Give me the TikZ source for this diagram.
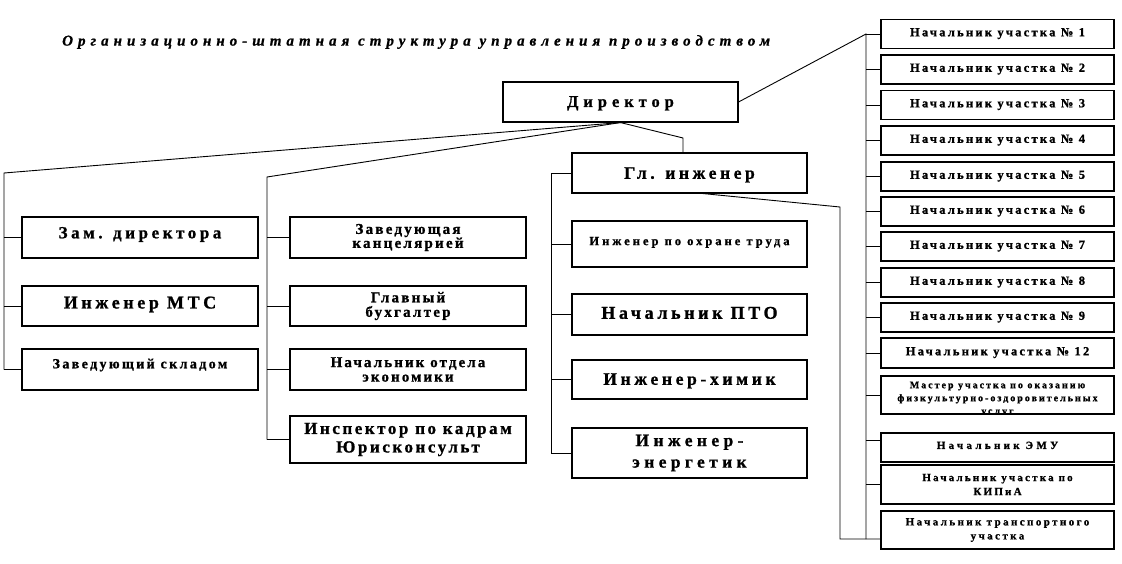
\documentclass[tikz,border=0pt]{standalone}
\usepackage{fontspec}
\setmainfont{Liberation Serif}
\begin{document}
\begin{tikzpicture}[x=1pt,y=-1pt,
  box/.style={draw, line width=1.1pt, inner sep=0pt, align=center},
  conn/.style={line width=0.9pt},
  f/.style n args={3}{font=\fontsize{#1}{#2}\selectfont\bfseries\addfontfeatures{LetterSpace=#3,FakeBold=1}},
  vc/.style 2 args={text height=#1, text depth=#2},
  rbox/.style={box, minimum width=233, minimum height=29, f={12.5}{15}{18}, vc={8.25pt}{3.6pt}}]
\fill[white] (0,0) rectangle (1122,563);
\useasboundingbox (0,0) rectangle (1122,563);

% title
\node[anchor=west, inner sep=0pt, font=\fontsize{15}{18}\selectfont\bfseries\itshape\addfontfeatures{LetterSpace=33.5,FakeBold=1}] (title) at (62,42) {Организационно-штатная структура управления производством};

% top
\node[box, minimum width=235, minimum height=40, f={16.5}{20}{30}, vc={10.9pt}{1pt}] (dir) at (620.5,102) {Директор};
\node[box, minimum width=235, minimum height=40, f={17.5}{20}{20.5}, vc={11.5pt}{0pt}] (gl) at (689.5,173) {Гл. инженер};

% left column
\node[box, minimum width=236, minimum height=41, f={17}{20}{21}, vc={11.2pt}{9.6pt}] (zam) at (140,237.5) {Зам. директора};
\node[box, minimum width=236, minimum height=40, f={18}{20}{20}, vc={11.9pt}{7pt}] (mts) at (140,306) {Инженер МТС};
\node[box, minimum width=236, minimum height=41, f={14}{16}{17}, vc={9.2pt}{11.6pt}] (sklad) at (140,369.5) {Заведующий складом};

% second column
\node[box, minimum width=236, minimum height=41, f={15}{14}{15}] (kanc) at (408,237.5) {Заведующая\\канцелярией};
\node[box, minimum width=236, minimum height=40, f={15}{14.5}{15}] (buh) at (408,306) {Главный\\бухгалтер};
\node[box, minimum width=236, minimum height=41, f={15}{14.5}{14}] (econ) at (408,369.5) {Начальник отдела\\экономики};
\node[box, minimum width=236, minimum height=47, f={17}{18.5}{15}] (insp) at (408,439.5) {Инспектор по кадрам\\Юрисконсульт};

% third column
\node[box, minimum width=235, minimum height=46, f={12.5}{15}{24}, vc={8.25pt}{6pt}] (ohr) at (689.5,244) {Инженер по охране труда};
\node[box, minimum width=235, minimum height=41, f={18}{20}{20}, vc={11.9pt}{3.4pt}] (pto) at (689.5,314.5) {Начальник ПТО};
\node[box, minimum width=235, minimum height=39, f={17.5}{20}{21}, vc={11.5pt}{1pt}] (him) at (689.5,379.5) {Инженер-химик};
\node[box, minimum width=235, minimum height=50, f={17.5}{21.5}{25}] (energ) at (689.5,453) {Инженер-\\энергетик};

% right column
\node[rbox] (u1) at (997.5,34) {Начальник участка № 1};
\node[rbox] (u2) at (997.5,69.5) {Начальник участка № 2};
\node[rbox] (u3) at (997.5,105) {Начальник участка № 3};
\node[rbox] (u4) at (997.5,140.5) {Начальник участка № 4};
\node[rbox] (u5) at (997.5,176.5) {Начальник участка № 5};
\node[rbox] (u6) at (997.5,211.5) {Начальник участка № 6};
\node[rbox] (u7) at (997.5,246.5) {Начальник участка № 7};
\node[rbox] (u8) at (997.5,282.5) {Начальник участка № 8};
\node[rbox] (u9) at (997.5,317.5) {Начальник участка № 9};
\node[rbox, minimum height=30] (u12) at (997.5,353) {Начальник участка № 12};
\node[box, minimum width=233, minimum height=38] (master) at (997.5,395) {};
\begin{scope}
\clip (master.south west) rectangle (master.north east);
\node[align=center, inner sep=0pt, f={10}{13}{20}] (mastert) at ([yshift=-4pt]master.center) {Мастер участка по оказанию\\физкультурно-оздоровительных\\услуг};
\end{scope}
\node[box, minimum width=233, minimum height=29, f={11}{13}{30}, vc={7.3pt}{4.4pt}] (emu) at (997.5,447.5) {Начальник ЭМУ};
\node[box, minimum width=233, minimum height=39, f={11}{14}{20}] (kip) at (997.5,484.5) {Начальник участка по\\КИПиА};
\node[box, minimum width=233, minimum height=38, f={11}{14}{22}] (trans) at (997.5,530) {Начальник транспортного\\участка};

% connector coordinates
\coordinate (cL) at (4,173);
\coordinate (cM) at (267,177);
\coordinate (cG) at (683,138);
\coordinate (cGx) at (551,173);
\coordinate (cR) at (866,34);
\coordinate (cB) at (840,207);
\coordinate (cRb) at ([yshift=-9pt]trans.west);

% director to left column
\draw[conn] (dir.south) -- (cL) -- (cL |- sklad.west);
\foreach \n in {zam,mts,sklad} \draw[conn] (\n.west) -- (\n.west -| cL);
% director to second column
\draw[conn] (dir.south) -- (cM) -- (cM |- insp.west);
\foreach \n in {kanc,buh,econ,insp} \draw[conn] (\n.west) -- (\n.west -| cM);
% director to chief engineer
\draw[conn] (dir.south) -- (cG) -- (cG |- gl.north);
% chief engineer column
\draw[conn] (gl.west) -- (cGx) -- (cGx |- energ.west);
\foreach \n in {ohr,pto,him,energ} \draw[conn] (\n.west) -- (\n.west -| cGx);
% director to right column
\draw[conn] (dir.east) -- (cR) -- (cR |- cRb);
\foreach \n in {u1,u2,u3,u4,u5,u6,u7,u8,u9,u12,master} \draw[conn] (\n.west) -- (\n.west -| cR);
\draw[conn] ([yshift=7.5pt]emu.west) -- ([yshift=7.5pt]emu.west -| cR);
\draw[conn] (kip.west) -- (kip.west -| cR);
% chief engineer to right column
\draw[conn] ([xshift=13.5pt]gl.south) -- (cB) -- (cB |- cRb) -- (cRb);
\end{tikzpicture}
\end{document}
